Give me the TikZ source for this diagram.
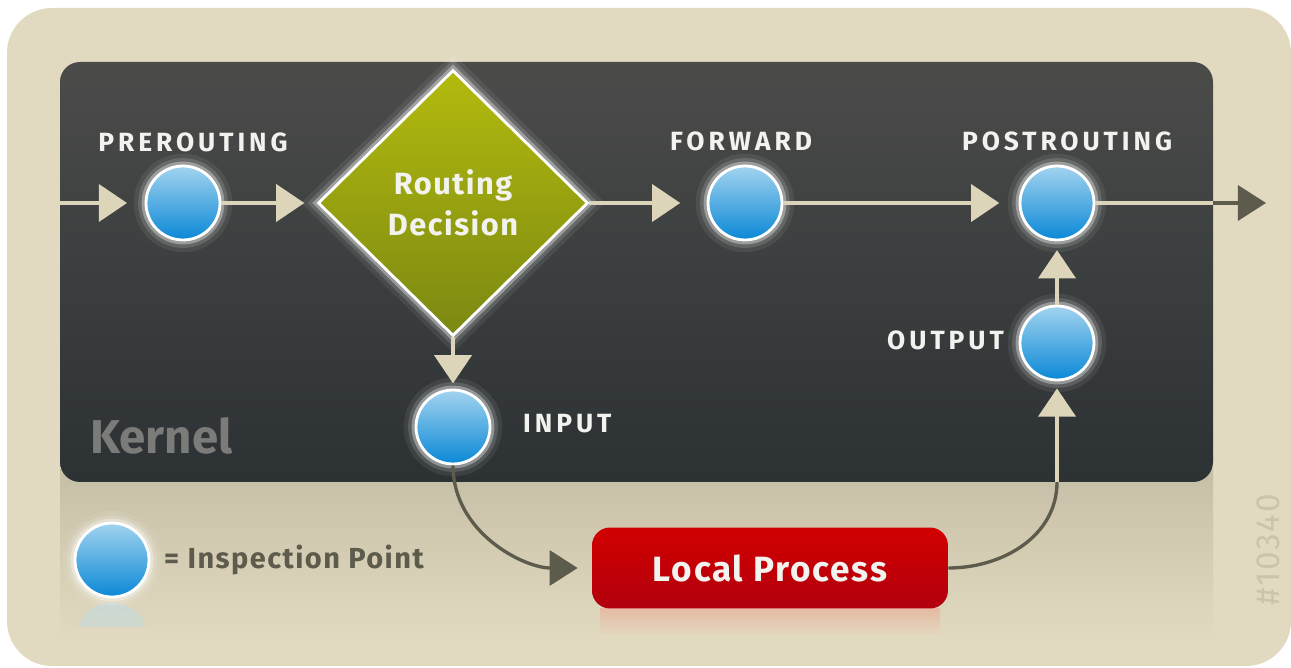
\documentclass[tikz,border=0pt]{standalone}
\usepackage{fontspec}
\setmainfont{Fira Sans}
\newfontfamily\capsfont[LetterSpace=15]{Fira Sans}
\newfontfamily\wordfont[LetterSpace=5]{Fira Sans}
\usetikzlibrary{arrows.meta,shapes.geometric,positioning}

\definecolor{paper}{HTML}{E2DAC0}
\definecolor{mirror}{HTML}{C6BFA7}
\definecolor{kerntop}{HTML}{4B4C4A}
\definecolor{kernbot}{HTML}{2C3134}
\definecolor{flowbeige}{HTML}{DDD5BA}
\definecolor{flowdark}{HTML}{5C5B4C}
\definecolor{chalk}{HTML}{F2F2EE}
\definecolor{bluetop}{HTML}{A2D3EF}
\definecolor{bluebot}{HTML}{0A88D6}
\definecolor{olivetop}{HTML}{B3BB0E}
\definecolor{olivebot}{HTML}{7B8812}
\definecolor{redtop}{HTML}{D20000}
\definecolor{redbot}{HTML}{B1000E}
\definecolor{kerngray}{HTML}{7B7C79}
\definecolor{tagcolor}{HTML}{CBC3AA}

\tikzset{
  halo/.style={preaction={draw=white, line width=14pt, opacity=.07},
    preaction={draw=white, line width=9pt, opacity=.14},
    preaction={draw=white, line width=5pt, opacity=.35}},
  hook/.style={circle, minimum size=1.48cm, inner sep=0pt, draw=white,
    line width=1.6pt, top color=bluetop, bottom color=bluebot, halo},
  hooklabel/.style={text=chalk, font=\capsfont\bfseries\fontsize{15}{17}\selectfont},
  decision/.style={diamond, minimum width=5.4cm, minimum height=5.32cm, inner sep=0pt,
    draw=white, line width=1.6pt, top color=olivetop, bottom color=olivebot,
    text=chalk, align=center, font=\wordfont\bfseries\fontsize{17.5}{23}\selectfont, halo},
  procbox/.style={rounded corners=0.36cm, minimum width=7.12cm, minimum height=1.62cm,
    top color=redtop, bottom color=redbot, text=chalk,
    font=\wordfont\bfseries\fontsize{20}{22}\selectfont},
  flow/.style={draw=flowbeige, line width=2.3pt, -{Triangle[length=16pt,width=21pt]}},
  flowin/.style={draw=flowbeige, line width=2.3pt},
  darkflow/.style={draw=flowdark, line width=1.9pt, -{Triangle[length=16pt,width=20pt]}},
  darkline/.style={draw=flowdark, line width=1.9pt}
}

\begin{document}
\begin{tikzpicture}[x=0.02cm,y=-0.02cm]
    \useasboundingbox (0,0) rectangle (1291,668);
    \fill[white] (0,0) rectangle (1291,668);
    \fill[paper, rounded corners=0.9cm] (7,8) rectangle (1291,666);
    %
    % mirror below the kernel
    \shade[top color=mirror, bottom color=paper] (60,470) rectangle (1213,640);
    \shade[top color=red!15!paper, bottom color=paper] (600,608) rectangle (940,636);
    \begin{scope}
      \clip (70,603) rectangle (155,626);
      \shade[top color=bluetop!40!paper, bottom color=paper] (112,640) circle (37);
    \end{scope}
    %
    % kernel box
    \shade[top color=kerntop, bottom color=kernbot, rounded corners=0.4cm]
        (60,62) rectangle (1213,482);
    \node[anchor=west, text=kerngray, font=\bfseries\fontsize{27}{30}\selectfont]
        (kernel) at (84,436) {Kernel};
    %
    % hooks
    \node[hook] (pre) at (183,203) {};
    \node[decision] (rd) at (453,203) {Routing\\Decision};
    \node[hook] (fwd) at (745,203) {};
    \node[hook] (post) at (1057,203) {};
    \node[hook] (out) at (1057,343) {};
    \node[hook] (inp) at (453,427) {};
    \node[procbox] (local) at (770,568) {Local Process};
    %
    \node[hooklabel] (prelbl) at (193,142) {PREROUTING};
    \node[hooklabel] (fwdlbl) at (741,141) {FORWARD};
    \node[hooklabel] (postlbl) at (1067,141) {POSTROUTING};
    \node[hooklabel, anchor=east] (outlbl) at (1010,340) {OUTPUT};
    \node[hooklabel, anchor=west] (inplbl) at (517,424) {INPUT};
    %
    % legend
    \node[hook] (key) at (112,560) {};
    \node[anchor=west, text=flowdark, font=\wordfont\bfseries\fontsize{16.5}{19}\selectfont]
        (keylbl) at (158,560) {= Inspection Point};
    \node[rotate=90, text=tagcolor, font=\wordfont\fontsize{19}{20}\selectfont]
        (tag) at (1268,550) {\#10340};
    %
    \coordinate (entry) at (60,203);
    \coordinate (kedge) at (1213,203);
    \coordinate (exit) at (1266,203);
    \coordinate (kfoot) at (1057,482);
    %
    \draw[flow, shorten >=10pt] (entry) -- (pre);
    \draw[flow, shorten >=7pt] (pre) -- (rd);
    \draw[flow, shorten >=15pt] (rd) -- (fwd);
    \draw[flow, shorten >=11pt] (fwd) -- (post);
    \draw[flowin] (post) -- (kedge);
    \draw[darkflow] (kedge) -- (exit);
    \draw[flow, shorten >=3pt] (rd) -- (inp);
    \draw[flow, shorten >=5pt] (out) -- (post);
    \draw[darkflow, shorten >=8pt] (inp.south) to[out=-90, in=180] (local.west);
    \draw[darkline] (local.east) to[out=0, in=-90] (kfoot);
    \draw[flow, shorten >=4pt] (kfoot) -- (out);
  \end{tikzpicture}
\end{document}
